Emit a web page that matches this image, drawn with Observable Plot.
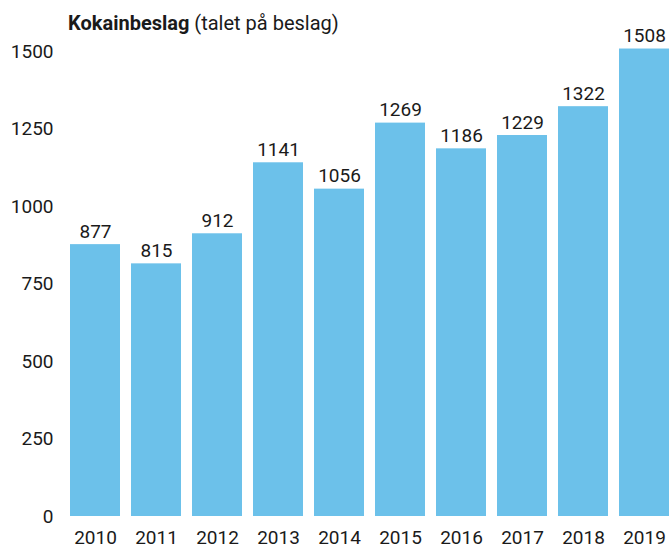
<!DOCTYPE html>
<html>
<head>
<meta charset="utf-8">
<script src="https://cdn.jsdelivr.net/npm/d3@7"></script>
<script src="https://cdn.jsdelivr.net/npm/@observablehq/plot@0.6"></script>
<style>
  body { margin: 0; background: #fff; font-family: Roboto, sans-serif; color: #1a1a1a; }
  #title { position: relative; height: 32px; box-sizing: border-box; padding: 12px 0 0 68px; font-size: 20px; line-height: 22px; }
  #title b { font-weight: 700; }
  svg { overflow: visible; }
</style>
</head>
<body>
<div id="title"><b>Kokainbeslag</b> (talet på beslag)</div>
<div id="chart"></div>
<script>
const years = ["2010","2011","2012","2013","2014","2015","2016","2017","2018","2019"];
const seizures = [877, 815, 912, 1141, 1056, 1269, 1186, 1229, 1322, 1508];
const yTicks = [0, 250, 500, 750, 1000, 1250, 1500];

const data = years.map((y, i) => ({year: y, value: seizures[i]}));

const chart = Plot.plot({
  width: 669,
  height: 517,
  marginLeft: 70,
  marginRight: 0,
  marginTop: 19,
  marginBottom: 33,
  style: {fontFamily: "Roboto, sans-serif", fontSize: "19px", color: "#1a1a1a", background: "#fff", overflow: "visible"},
  x: {domain: years, paddingInner: 11/61, paddingOuter: 0, label: null},
  y: {domain: [0, 1500], label: null},
  marks: [
    Plot.barY(data, {x: "year", y: "value", fill: "#6cc1ea"}),
    Plot.text(data, {x: "year", y: "value", text: d => String(d.value), dy: -13, fill: "#1a1a1a", fontSize: 19}),
    Plot.axisY({ticks: yTicks, tickSize: 0, tickPadding: 17, label: null, fontSize: 19, tickFormat: d => String(d)}),
    Plot.axisX({tickSize: 0, tickPadding: 14, label: null, fontSize: 19})
  ]
});
document.getElementById("chart").appendChild(chart);
</script>
</body>
</html>
